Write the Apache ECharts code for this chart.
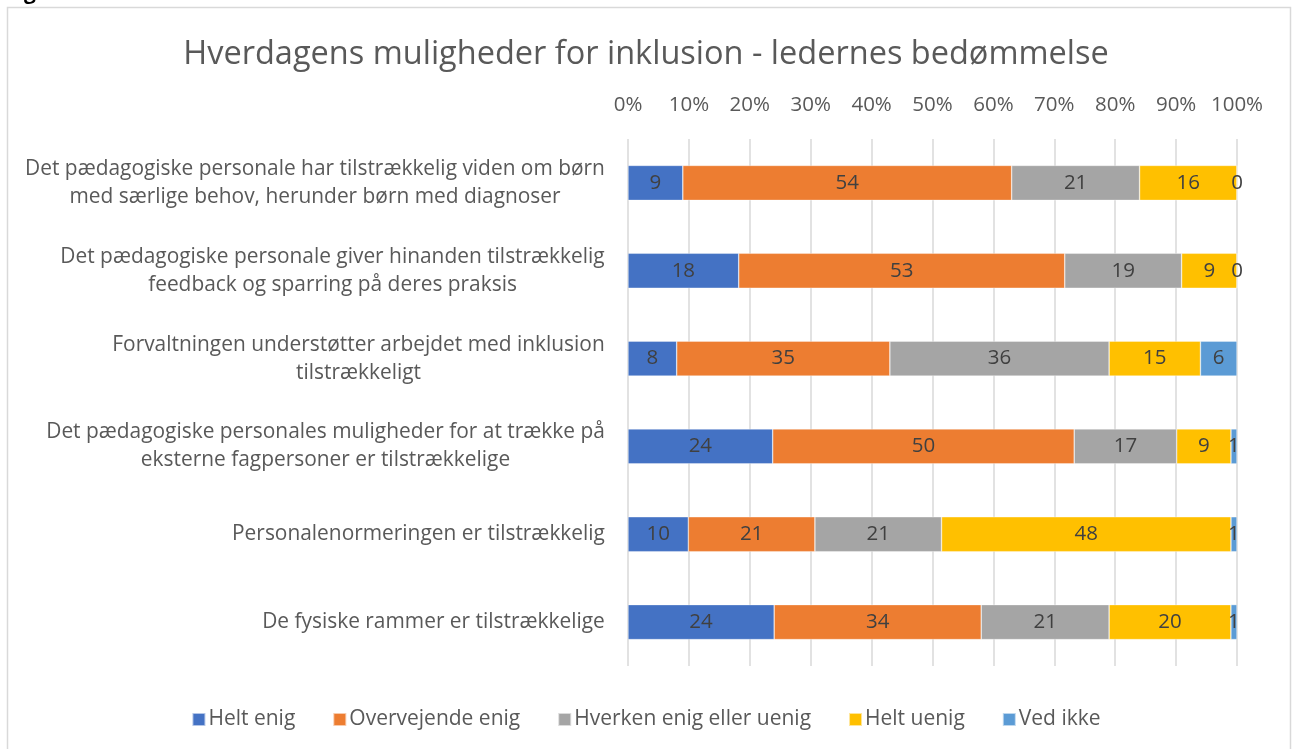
<!DOCTYPE html>
<html>
<head>
<meta charset="utf-8">
<script src="https://cdn.jsdelivr.net/npm/echarts@6/dist/echarts.min.js"></script>
<style>
  html, body { margin: 0; padding: 0; background: #fff; }
  #chart { width: 1292px; height: 749px; }
</style>
</head>
<body>
<div id="chart"></div>
<script>
const categories = [
  'Det pædagogiske personale har tilstrækkelig viden om børn\nmed særlige behov, herunder børn med diagnoser',
  'Det pædagogiske personale giver hinanden tilstrækkelig\nfeedback og sparring på deres praksis',
  'Forvaltningen understøtter arbejdet med inklusion\ntilstrækkeligt',
  'Det pædagogiske personales muligheder for at trække på\neksterne fagpersoner er tilstrækkelige',
  'Personalenormeringen er tilstrækkelig',
  'De fysiske rammer er tilstrækkelige'
];
const seriesNames = ['Helt enig', 'Overvejende enig', 'Hverken enig eller uenig', 'Helt uenig', 'Ved ikke'];
const heltEnig = [9, 18, 8, 24, 10, 24];
const overvejendeEnig = [54, 53, 35, 50, 21, 34];
const hverken = [21, 19, 36, 17, 21, 21];
const heltUenig = [16, 9, 15, 9, 48, 20];
const vedIkke = [0, 0, 6, 1, 1, 1];
const xTicks = [0, 10, 20, 30, 40, 50, 60, 70, 80, 90, 100];

const FONT = '"Open Sans", "DejaVu Sans", sans-serif';
const colors = ['#4472C4', '#ED7D31', '#A5A5A5', '#FFC000', '#5B9BD5'];
const raw = [heltEnig, overvejendeEnig, hverken, heltUenig, vedIkke];

// 100% stacked: each row is scaled to its own total
const totals = categories.map((_, i) => raw.reduce((s, arr) => s + arr[i], 0));

// measure label blocks so the lines can be centred within each block
const LABEL_SIZE = 20.9;
const mctx = document.createElement('canvas').getContext('2d');
mctx.font = LABEL_SIZE + 'px "Open Sans"';
const rich = {};
categories.forEach((c, i) => {
  const w = Math.max(...c.split('\n').map(l => mctx.measureText(l).width));
  rich['r' + i] = { width: Math.ceil(w) + 2, align: 'center', fontSize: LABEL_SIZE, lineHeight: 28, color: '#595959', fontFamily: FONT };
});

const chart = echarts.init(document.getElementById('chart'));

const series = seriesNames.map((name, k) => ({
  name,
  type: 'bar',
  stack: 'total',
  barWidth: 35,
  itemStyle: { color: colors[k], borderColor: 'rgba(255,255,255,0.6)', borderWidth: 0.6 },
  label: {
    show: true,
    position: 'inside',
    color: '#404040',
    fontSize: 20.5,
    fontFamily: FONT,
    formatter: p => raw[k][p.dataIndex]
  },
  data: raw[k].map((v, i) => v / totals[i] * 100)
}));

chart.setOption({
  backgroundColor: '#fff',
  animation: false,
  textStyle: { fontFamily: FONT },
  title: {
    text: 'Hverdagens muligheder for inklusion - ledernes bedømmelse',
    left: 'center',
    top: 33,
    textStyle: { fontSize: 32.5, fontWeight: 'normal', color: '#595959', fontFamily: FONT }
  },
  graphic: [
    { type: 'rect', shape: { x: 7.5, y: 7.5, width: 1283, height: 760 }, style: { fill: 'none', stroke: '#d9d9d9', lineWidth: 1.5 }, silent: true },
    { type: 'text', left: 24, top: -17, style: { text: 'g', fontSize: 21, fontWeight: 'bold', fill: '#000', fontFamily: FONT } }
  ],
  legend: {
    data: seriesNames,
    left: 'center',
    top: 704,
    icon: 'rect',
    itemWidth: 13,
    itemHeight: 13,
    itemGap: 37,
    textStyle: { fontSize: 21, color: '#595959', fontFamily: FONT, padding: [0, 0, 0, -2] }
  },
  grid: { left: 628, right: 55, top: 139, bottom: 83, containLabel: false },
  xAxis: {
    type: 'value',
    position: 'top',
    min: xTicks[0],
    max: xTicks[xTicks.length - 1],
    interval: 10,
    axisLine: { show: false },
    axisTick: { show: false },
    splitLine: { show: true, lineStyle: { color: '#d9d9d9', width: 1.5 } },
    axisLabel: { formatter: '{value}%', fontSize: 20.5, color: '#595959', fontFamily: FONT, margin: 23 }
  },
  yAxis: {
    type: 'category',
    inverse: true,
    data: categories,
    axisLine: { show: false },
    axisTick: { show: false },
    axisLabel: {
      margin: 22,
      formatter: (v, i) => v.split('\n').map(l => `{r${i}|${l}}`).join('\n'),
      rich
    }
  },
  series
});
</script>
</body>
</html>
